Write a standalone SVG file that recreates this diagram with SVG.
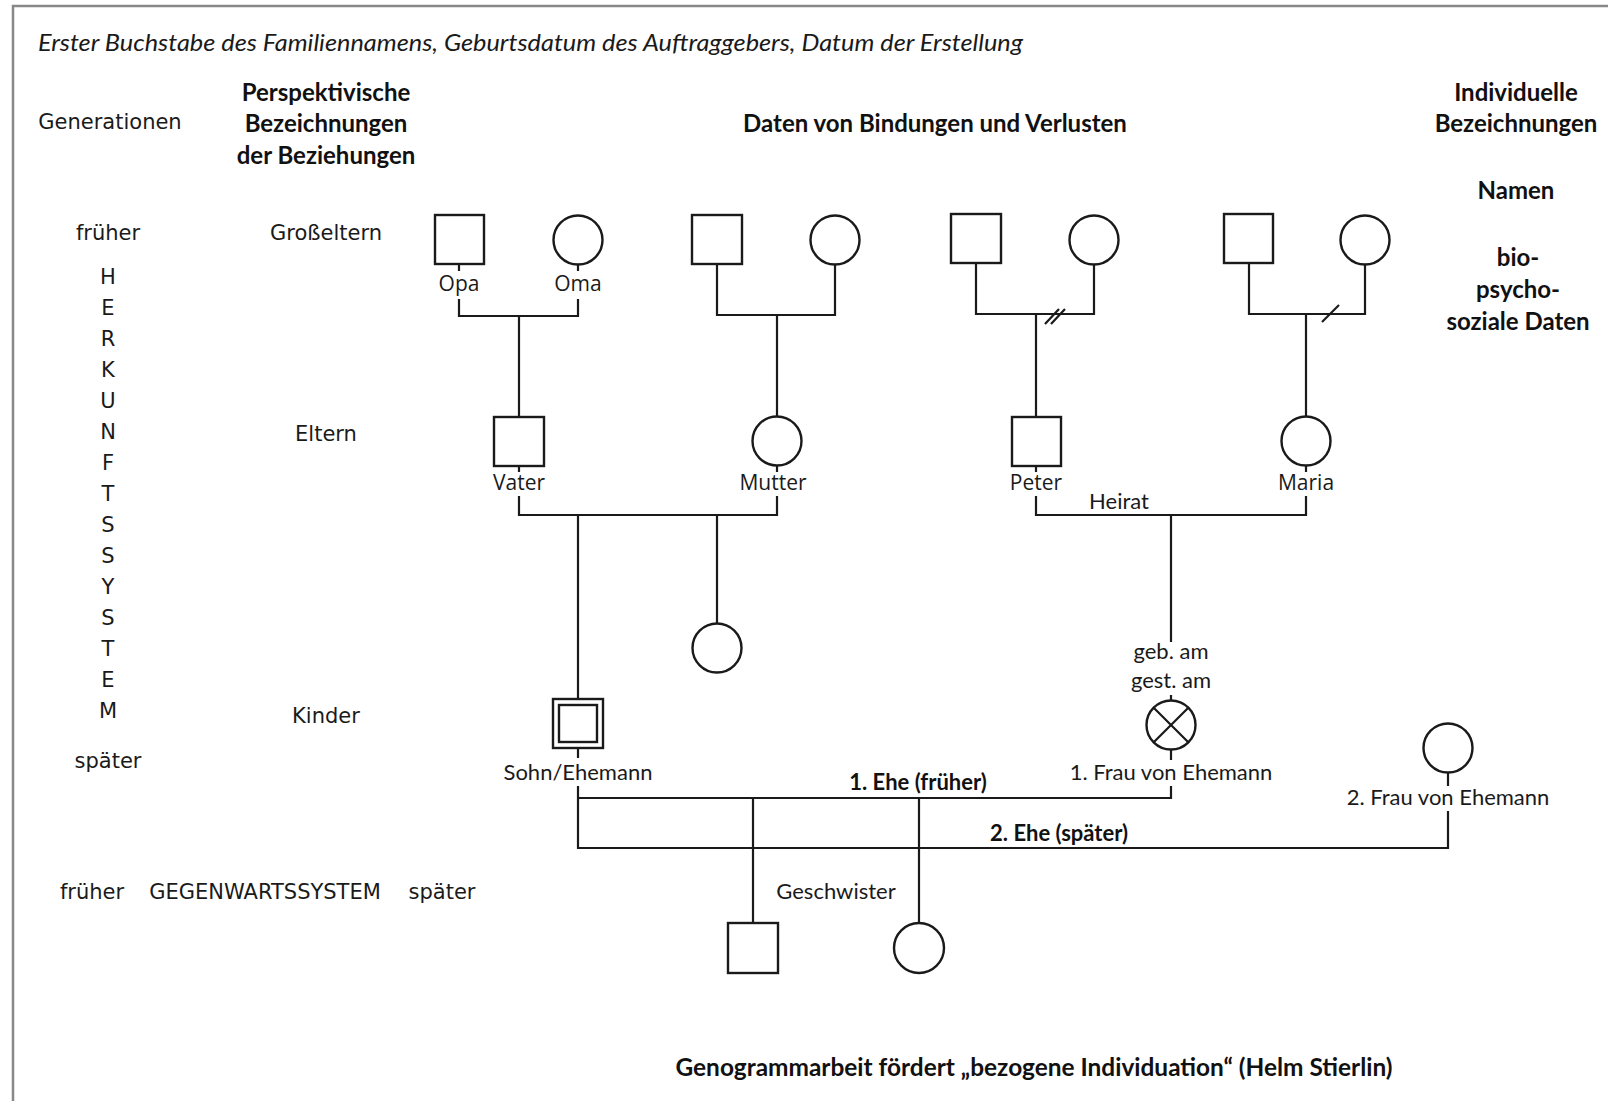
<svg xmlns="http://www.w3.org/2000/svg" width="1608" height="1101" viewBox="0 0 1608 1101">
<style>
.ln{stroke:#1a1a1a;stroke-width:2.2;fill:none}
.sh{stroke:#1a1a1a;stroke-width:2.4;fill:#fff}
.t{font-family:"Open Sans","DejaVu Sans",sans-serif;font-size:21px;fill:#1a1a1a;text-anchor:middle;dominant-baseline:central}
.c{font-family:Lato,"Liberation Sans",sans-serif;font-size:22px;fill:#1a1a1a;text-anchor:middle;dominant-baseline:central}
.v{font-family:"DejaVu Sans",Verdana,sans-serif;font-size:21px;fill:#1a1a1a;text-anchor:middle;dominant-baseline:central}
.b{font-family:Lato,"Liberation Sans",sans-serif;font-weight:bold;font-size:24px;fill:#111;text-anchor:middle;dominant-baseline:central}
.cb{font-family:Lato,"Liberation Sans",sans-serif;font-weight:bold;font-size:22px;fill:#111;text-anchor:middle;dominant-baseline:central}
</style>
<rect width="1608" height="1101" fill="#fff"/>
<path d="M13 1101V6H1608" stroke="#888" stroke-width="2.5" fill="none"/>

<g id="header">
<text x="38" y="41" font-family="Lato,'Liberation Sans',sans-serif" font-style="italic" font-size="24" fill="#1a1a1a" dominant-baseline="central" textLength="985" lengthAdjust="spacingAndGlyphs">Erster Buchstabe des Familiennamens, Geburtsdatum des Auftraggebers, Datum der Erstellung</text>
<text class="v" x="110" y="122">Generationen</text>
<text class="b" x="326" y="91">Perspektivische</text>
<text class="b" x="326" y="122">Bezeichnungen</text>
<text class="b" x="326" y="154">der Beziehungen</text>
<text class="b" x="935" y="122">Daten von Bindungen und Verlusten</text>
<text class="b" x="1516" y="91">Individuelle</text>
<text class="b" x="1516" y="122">Bezeichnungen</text>
<text class="b" x="1516" y="189">Namen</text>
<text class="b" x="1518" y="256">bio-</text>
<text class="b" x="1518" y="288">psycho-</text>
<text class="b" x="1518" y="320">soziale Daten</text>
</g>

<g id="generations">
<text class="v" x="108" y="233">früher</text>
<text class="v" x="108" y="277">H</text>
<text class="v" x="108" y="308">E</text>
<text class="v" x="108" y="339">R</text>
<text class="v" x="108" y="370">K</text>
<text class="v" x="108" y="401">U</text>
<text class="v" x="108" y="432">N</text>
<text class="v" x="108" y="463">F</text>
<text class="v" x="108" y="494">T</text>
<text class="v" x="108" y="525">S</text>
<text class="v" x="108" y="556">S</text>
<text class="v" x="108" y="587">Y</text>
<text class="v" x="108" y="618">S</text>
<text class="v" x="108" y="649">T</text>
<text class="v" x="108" y="680">E</text>
<text class="v" x="108" y="711">M</text>
<text class="v" x="108" y="761">später</text>
<text class="v" x="326" y="233">Großeltern</text>
<text class="v" x="326" y="434">Eltern</text>
<text class="v" x="326" y="716">Kinder</text>
<text class="v" x="92" y="892">früher</text>
<text class="v" x="265" y="892">GEGENWARTSSYSTEM</text>
<text class="v" x="442" y="892">später</text>
</g>

<g id="connectors">
<path class="ln" d="M459 265V271M459 299V316H578V299M578 265V271M519 316V417"/>
<path class="ln" d="M717 264V315H835V265M777 315V417"/>
<path class="ln" d="M976 263V314H1094V265M1036 314V417"/>
<path class="ln" d="M1045 324L1059 309M1051 324L1065 309"/>
<path class="ln" d="M1249 263V314H1365V265M1306 314V417"/>
<path class="ln" d="M1322 322L1339 305"/>
<path class="ln" d="M519 466V472M519 496V515H777V496M777 466V472M578 515V699M717 515V623"/>
<path class="ln" d="M1036 466V472M1036 496V515H1306V496M1306 466V472M1171 515V642"/>
<path class="ln" d="M1171 695V700M1171 750V760M1171 786V798H578M578 748V758M578 786V848H1448V811M1448 773V786"/>
<path class="ln" d="M753 798V923M919 798V923"/>
</g>

<g id="labels">
<text class="c" x="1119" y="500">Heirat</text>
<text class="cb" x="918" y="781">1. Ehe (früher)</text>
<text class="cb" x="1059" y="832">2. Ehe (später)</text>
<text class="c" x="836" y="890">Geschwister</text>
</g>

<g id="opa"><rect class="sh" x="435" y="215" width="49" height="49"/><text class="t" x="459" y="283">Opa</text></g>
<g id="oma"><circle class="sh" cx="578" cy="240" r="24.5"/><text class="t" x="578" y="283">Oma</text></g>
<g id="gp2m"><rect class="sh" x="692" y="215" width="50" height="49"/></g>
<g id="gp2f"><circle class="sh" cx="835" cy="240" r="24.5"/></g>
<g id="gp3m"><rect class="sh" x="951" y="214" width="50" height="49"/></g>
<g id="gp3f"><circle class="sh" cx="1094" cy="240" r="24.5"/></g>
<g id="gp4m"><rect class="sh" x="1224" y="214" width="49" height="49"/></g>
<g id="gp4f"><circle class="sh" cx="1365" cy="240" r="24.5"/></g>

<g id="vater"><rect class="sh" x="494" y="417" width="50" height="49"/><text class="t" x="519" y="482">Vater</text></g>
<g id="mutter"><circle class="sh" cx="777" cy="441" r="24.5"/><text class="t" x="773" y="482">Mutter</text></g>
<g id="peter"><rect class="sh" x="1012" y="417" width="49" height="49"/><text class="t" x="1036" y="482">Peter</text></g>
<g id="maria"><circle class="sh" cx="1306" cy="441" r="24.5"/><text class="t" x="1306" y="482">Maria</text></g>

<g id="schwester"><circle class="sh" cx="717" cy="648" r="24.5"/></g>
<g id="sohn"><rect class="sh" x="553" y="699" width="50" height="49"/><rect class="sh" x="559" y="705" width="38" height="37"/><text class="c" x="578" y="771">Sohn/Ehemann</text></g>
<g id="frau1"><text class="c" x="1171" y="650">geb. am</text><text class="c" x="1171" y="679">gest. am</text><circle class="sh" cx="1171" cy="725" r="24.5"/><path class="ln" d="M1153.7 707.7L1188.3 742.3M1188.3 707.7L1153.7 742.3"/><text class="c" x="1171" y="771">1. Frau von Ehemann</text></g>
<g id="frau2"><circle class="sh" cx="1448" cy="748" r="24.5"/><text class="c" x="1448" y="796">2. Frau von Ehemann</text></g>

<g id="kind1"><rect class="sh" x="728" y="923" width="50" height="50"/></g>
<g id="kind2"><circle class="sh" cx="919" cy="948" r="25"/></g>

<g id="footer"><text class="b" x="1034" y="1066" font-size="24.5" textLength="717" lengthAdjust="spacingAndGlyphs">Genogrammarbeit fördert „bezogene Individuation“ (Helm Stierlin)</text></g>
</svg>
